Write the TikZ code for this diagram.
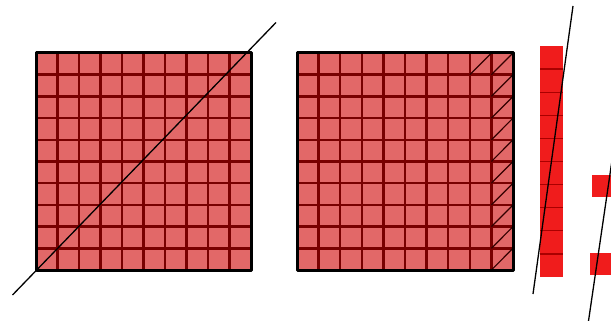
\documentclass[tikz,border=0pt]{standalone}
\definecolor{cellred}{RGB}{226,104,104}
\definecolor{gridred}{RGB}{120,0,0}
\definecolor{barred}{RGB}{240,28,28}
\definecolor{barline}{RGB}{170,0,0}
\tikzset{
  gridline/.style={gridred, line width=2.4pt},
  outline/.style={black, line width=3pt, line join=round},
  hatchline/.style={black!80!red, line width=1.2pt},
  cutline/.style={black, line width=1.3pt},
  barsep/.style={barline, line width=1.2pt}
}
\begin{document}
\begin{tikzpicture}[x=1pt,y=-1pt]
\useasboundingbox[fill=white] (0,0) rectangle (611,321);

% ---- first square (36,53)-(251,270)
\fill[cellred] (36,53) rectangle (251,270);
\foreach \i in {1,...,9}{
  \draw[gridline] ({36+21.5*\i},53) -- ({36+21.5*\i},270);
  \draw[gridline] (36,{53+21.7*\i}) -- (251,{53+21.7*\i});
}
\draw[outline] (36,53) rectangle (251,270);
\coordinate (d1a) at (12.5,295);
\coordinate (d1b) at (276,22.5);
\draw[cutline] (d1a) -- (d1b);

% ---- second square (297,53)-(513,270)
\fill[cellred] (297,53) rectangle (513,270);
\foreach \i in {1,...,9}{
  \draw[gridline] ({297+21.6*\i},53) -- ({297+21.6*\i},270);
  \draw[gridline] (297,{53+21.7*\i}) -- (513,{53+21.7*\i});
}
% hatches in last column
\foreach \j in {0,...,9}{
  \draw[hatchline] (491.4,{53+21.7*(\j+1)}) -- (513,{53+21.7*\j});
}
\draw[hatchline] (469.8,74.7) -- (491.4,53);
\draw[outline] (297,53) rectangle (513,270);

% ---- vertical bar (540,46)-(563,277)
\fill[barred] (540,46) rectangle (563,277);
\foreach \j in {1,...,9}{
  \draw[barsep] (540,{46+23.1*\j}) -- (563,{46+23.1*\j});
}
\coordinate (d2a) at (573,6);
\coordinate (d2b) at (533,294);
\draw[cutline] (d2a) -- (d2b);

% ---- small squares at the right edge
\fill[barred] (591.5,175) rectangle (614,197);
\fill[barred] (590,253) rectangle (614,275);
\coordinate (d3a) at (612.5,157);
\coordinate (d3b) at (588.5,321);
\draw[cutline] (d3a) -- (d3b);
\end{tikzpicture}
\end{document}
